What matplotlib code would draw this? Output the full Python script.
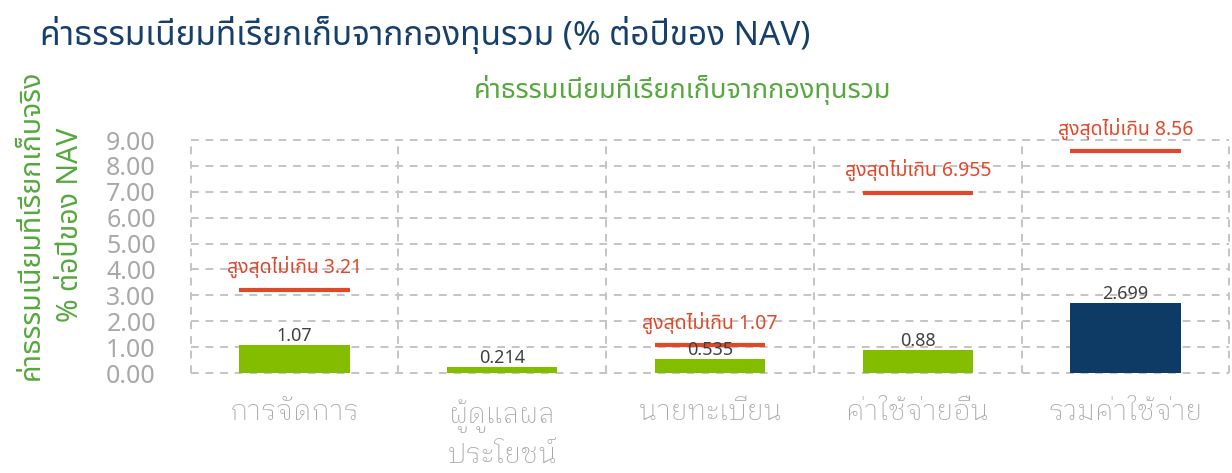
import matplotlib
matplotlib.use("Agg")
import matplotlib.pyplot as plt
import numpy as np

categories = ["การจัดการ", "ผู้ดูแลผล\nประโยชน์", "นายทะเบียน", "ค่าใช้จ่ายอื่น", "รวมค่าใช้จ่าย"]
actual = [1.07, 0.214, 0.535, 0.88, 2.699]
actual_labels = ["1.07", "0.214", "0.535", "0.88", "2.699"]
max_vals = [3.21, None, 1.07, 6.955, 8.56]
max_labels = ["สูงสุดไม่เกิน 3.21", None, "สูงสุดไม่เกิน 1.07", "สูงสุดไม่เกิน 6.955", "สูงสุดไม่เกิน 8.56"]
yticks = [0, 1, 2, 3, 4, 5, 6, 7, 8, 9]

GREEN = "#84BD00"
NAVY = "#0D3B66"
RED = "#E2472A"
TXT_GREEN = "#55A83C"
GRID = "#C4C4C4"
TICK = "#A8A8A8"

F_LOOP = ["Noto Sans Thai Looped", "DejaVu Sans"]
F_LOOP2 = ["IBM Plex Sans Thai Looped", "DejaVu Sans"]
F_PLAIN = ["Noto Sans Thai", "Noto Sans", "DejaVu Sans"]

fig = plt.figure(figsize=(12.32, 4.73), dpi=100)
W, H = 1232, 473
x0, x1 = 190.6, 1229.4
y0, y1 = 373, 140
ax = fig.add_axes([x0 / W, (H - y0) / H, (x1 - x0) / W, (y0 - y1) / H])

x = np.arange(len(categories))
colors = [GREEN] * (len(categories) - 1) + [NAVY]
bw = 0.53
ax.bar(x, actual, width=bw, color=colors, zorder=3)

for xi, v, lab in zip(x, actual, actual_labels):
    ax.text(xi, v + 0.02, lab, ha="center", va="bottom", fontsize=13,
            color="#404040", family=F_PLAIN, zorder=5)

for xi, m, lab in zip(x, max_vals, max_labels):
    if m is None:
        continue
    ax.hlines(m, xi - bw / 2, xi + bw / 2, color=RED, lw=3, zorder=4)
    ax.text(xi, m + 0.45, lab, ha="center", va="bottom", fontsize=14,
            color=RED, family=F_PLAIN, zorder=5)

ax.set_xlim(-0.5, len(categories) - 0.5)
ax.set_ylim(0, 9)
ax.set_yticks(yticks)
ax.set_yticklabels([f"{t:.2f}" for t in yticks], fontsize=18, color=TICK,
                   family=F_LOOP)
ax.set_xticks(x)
ax.set_xticklabels(categories, fontsize=20, color=TICK, family=F_LOOP2,
                   fontweight="light", linespacing=1.4, va="top")
ax.tick_params(axis="both", length=0)
ax.tick_params(axis="y", pad=25)
ax.tick_params(axis="x", pad=19)

for s in ax.spines.values():
    s.set_visible(False)

for t in yticks:
    ax.axhline(t, color=GRID, lw=1.4, ls=(0, (4, 3.5)), zorder=1, clip_on=False)
for b in np.arange(-0.5, len(categories), 1.0):
    ax.axvline(b, color=GRID, lw=1.4, ls=(0, (4, 3.5)), zorder=1, clip_on=False)

ax.set_ylabel("ค่าธรรมเนียมที่เรียกเก็บจริง\n% ต่อปีของ NAV", fontsize=20.5,
              color=TXT_GREEN, family=F_PLAIN, fontweight="semibold",
              linespacing=1.45)
ax.yaxis.set_label_coords(-0.102, 0.635)

fig.text(40 / W, 1 - 35 / H, "ค่าธรรมเนียมที่เรียกเก็บจากกองทุนรวม (% ต่อปีของ NAV)",
         ha="left", va="center", fontsize=24, color="#173F6B", family=F_PLAIN,
         fontweight="bold")
fig.text(682 / W, 1 - 90 / H, "ค่าธรรมเนียมที่เรียกเก็บจากกองทุนรวม",
         ha="center", va="center", fontsize=19.5, color=TXT_GREEN, family=F_PLAIN,
         fontweight="semibold")

fig.savefig("out.png", dpi=100)
